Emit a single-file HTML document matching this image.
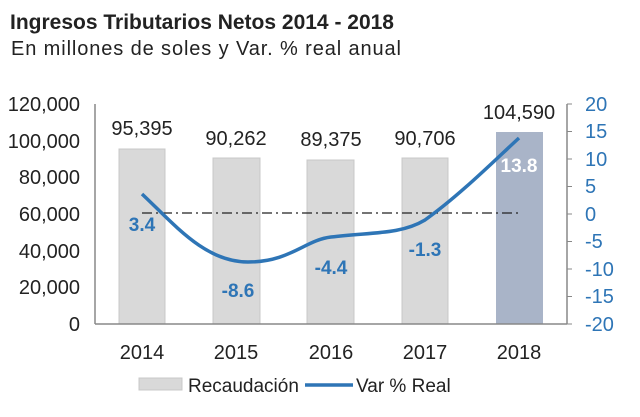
<!DOCTYPE html>
<html><head><meta charset="utf-8"><style>
body{margin:0;background:#fff;width:640px;height:412px;overflow:hidden}
svg{font-family:"Liberation Sans",Arial,sans-serif}
</style></head><body>
<svg width="640" height="412" viewBox="0 0 640 412">
<text x="10" y="29" font-size="21" font-weight="bold" fill="#222">Ingresos Tributarios Netos 2014 - 2018</text>
<text x="11" y="55" font-size="20" fill="#222" textLength="390">En millones de soles y Var. % real anual</text>
<g fill="#d9d9d9" stroke="#c8c8c8">
<rect x="119" y="149" width="46" height="175"/>
<rect x="213" y="158" width="47" height="166"/>
<rect x="307" y="160" width="47" height="164"/>
<rect x="402" y="158" width="46" height="166"/>
</g>
<rect x="496" y="132" width="47" height="192" fill="#a9b4c8"/>
<line x1="95" y1="104" x2="95" y2="324" stroke="#888" stroke-width="1.5"/>
<line x1="95" y1="324" x2="567" y2="324" stroke="#888" stroke-width="1.5"/>
<line x1="567" y1="104" x2="567" y2="324" stroke="#888" stroke-width="1.5"/>
<g stroke="#888"><line x1="567" y1="104" x2="572" y2="104"/><line x1="567" y1="131.5" x2="572" y2="131.5"/><line x1="567" y1="159" x2="572" y2="159"/><line x1="567" y1="186.5" x2="572" y2="186.5"/><line x1="567" y1="214" x2="572" y2="214"/><line x1="567" y1="241.5" x2="572" y2="241.5"/><line x1="567" y1="269" x2="572" y2="269"/><line x1="567" y1="296.5" x2="572" y2="296.5"/><line x1="567" y1="324" x2="572" y2="324"/></g>
<g font-size="20" fill="#222" text-anchor="end">
<text x="80" y="111">120,000</text><text x="80" y="148">100,000</text><text x="80" y="184">80,000</text><text x="80" y="221">60,000</text><text x="80" y="258">40,000</text><text x="80" y="294">20,000</text><text x="80" y="331">0</text>
</g>
<g font-size="20" fill="#2e75b6">
<text x="585" y="111">20</text><text x="585" y="138">15</text><text x="585" y="166">10</text><text x="585" y="193">5</text><text x="585" y="221">0</text><text x="585" y="248">-5</text><text x="585" y="276">-10</text><text x="585" y="303">-15</text><text x="585" y="331">-20</text>
</g>
<g font-size="20" fill="#222" text-anchor="middle">
<text x="142" y="135">95,395</text><text x="236" y="145">90,262</text><text x="331" y="146">89,375</text><text x="425" y="145">90,706</text><text x="519" y="119">104,590</text>
<text x="142" y="359">2014</text><text x="236" y="359">2015</text><text x="331" y="359">2016</text><text x="425" y="359">2017</text><text x="519" y="359">2018</text>
</g>
<line x1="142" y1="213" x2="520" y2="213" stroke="#222" stroke-width="1.3" stroke-dasharray="10,4,2,4"/>
<path d="M142,194 C175,225 205,262 248,262 C290,262 305,240 331,237 C370,232 400,235 425,220 C460,195 495,160 519,138" fill="none" stroke="#2e75b6" stroke-width="3.5"/>
<g font-size="19" font-weight="bold" fill="#2e75b6" text-anchor="middle">
<text x="142" y="231">3.4</text><text x="238" y="297">-8.6</text><text x="331" y="274">-4.4</text><text x="425" y="256">-1.3</text>
</g>
<text x="519" y="172" font-size="19" font-weight="bold" fill="#fff" text-anchor="middle">13.8</text>
<rect x="139" y="378" width="43" height="12" fill="#d9d9d9" stroke="#c8c8c8"/>
<text x="188" y="392" font-size="19" fill="#222">Recaudación</text>
<line x1="305" y1="385" x2="353" y2="385" stroke="#2e75b6" stroke-width="3.5"/>
<text x="356" y="392" font-size="19" fill="#222">Var % Real</text>
</svg>
</body></html>
